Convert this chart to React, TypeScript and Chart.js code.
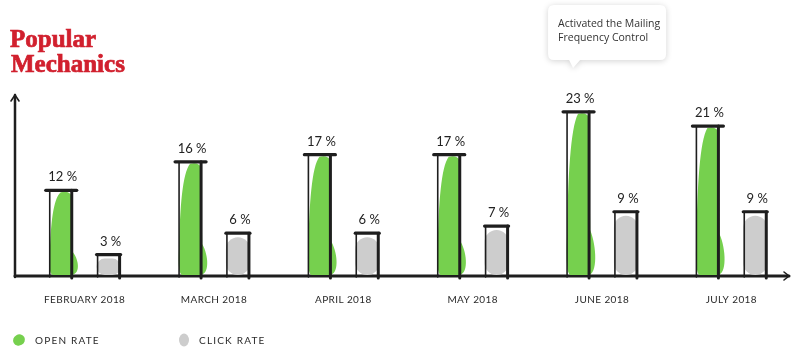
import React, { useEffect, useRef } from "react";
import { Chart, registerables } from "chart.js";
Chart.register(...registerables);

const months = ["FEBRUARY 2018", "MARCH 2018", "APRIL 2018", "MAY 2018", "JUNE 2018", "JULY 2018"];
const openRate = [12, 16, 17, 17, 23, 21];
const clickRate = [3, 6, 6, 7, 9, 9];
const seriesNames = ["OPEN RATE", "CLICK RATE"];
const titleLines = ["Popular", "Mechanics"];
const calloutLines = ["Activated the Mailing", "Frequency Control"];
const calloutIndex = 4;

const GREEN = "#76d04e";
const GRAY = "#cdcdcd";
const INK = "#1e1e1e";
const RED = "#d1202e";

function greenBlob(ctx: CanvasRenderingContext2D, l: number, r: number, t: number, b: number) {
  const w = r - l;
  const h = b - t;
  ctx.beginPath();
  ctx.moveTo(l + 0.5 * w, t + 2);
  ctx.quadraticCurveTo(r - 0.1 * w, t, r, t + 6);
  ctx.lineTo(r + 0.05 * w, b - 0.28 * h);
  ctx.bezierCurveTo(r + 0.35 * w, b - 0.18 * h, r + 0.4 * w, b - 1, r - 0.05 * w, b - 1);
  ctx.lineTo(l + 0.15 * w, b - 1);
  ctx.quadraticCurveTo(l - 0.08 * w, b - 2, l + 0.0 * w, b - 0.25 * h);
  ctx.bezierCurveTo(l + 0.05 * w, t + 0.4 * h, l + 0.15 * w, t + 0.1 * h, l + 0.5 * w, t + 2);
  ctx.closePath();
  ctx.fillStyle = GREEN;
  ctx.fill();
}

function grayBlob(ctx: CanvasRenderingContext2D, l: number, r: number, t: number, b: number) {
  const w = r - l;
  const top = t + 4;
  const h = b - 1 - top;
  ctx.beginPath();
  ctx.roundRect(l - 1, top, w + 2, h, Math.min((w + 2) / 2, h / 2));
  ctx.fillStyle = GRAY;
  ctx.fill();
}

const sketchPlugin = {
  id: "sketch",
  beforeDatasetsDraw(chart: any) {
    const ctx: CanvasRenderingContext2D = chart.ctx;
    const area = chart.chartArea;
    const xs = chart.scales.x;
    ctx.save();
    // title
    ctx.fillStyle = RED;
    ctx.strokeStyle = RED;
    ctx.lineWidth = 0.7;
    ctx.font = "bold 25px 'Liberation Serif'";
    ctx.textAlign = "left";
    ctx.textBaseline = "alphabetic";
    ctx.fillText(titleLines[0], 10, 47);
    ctx.strokeText(titleLines[0], 10, 47);
    ctx.fillText(titleLines[1], 11, 72);
    ctx.strokeText(titleLines[1], 11, 72);

    // axes
    ctx.strokeStyle = INK;
    ctx.lineCap = "round";
    ctx.lineWidth = 2.5;
    const ax = area.left - 5;
    ctx.beginPath();
    ctx.moveTo(ax, area.bottom + 1);
    ctx.lineTo(ax, area.top + 1);
    ctx.stroke();
    ctx.lineWidth = 1.6;
    ctx.beginPath();
    ctx.moveTo(ax - 4, area.top + 7);
    ctx.lineTo(ax, area.top + 1);
    ctx.lineTo(ax + 4, area.top + 7);
    ctx.stroke();
    ctx.lineWidth = 3;
    ctx.beginPath();
    ctx.moveTo(ax, area.bottom);
    ctx.lineTo(area.right - 7, area.bottom);
    ctx.stroke();
    ctx.lineWidth = 1.6;
    ctx.beginPath();
    ctx.moveTo(area.right - 12, area.bottom - 4);
    ctx.lineTo(area.right - 7, area.bottom);
    ctx.lineTo(area.right - 12, area.bottom + 4);
    ctx.stroke();

    // month labels
    ctx.fillStyle = "#2a2a2a";
    ctx.font = "10px Lato";
    (ctx as any).letterSpacing = "0.4px";
    ctx.textAlign = "center";
    months.forEach((m, i) => {
      ctx.fillText(m, xs.getPixelForValue(i), area.bottom + 27);
    });

    // legend
    ctx.fillStyle = GREEN;
    ctx.beginPath();
    ctx.ellipse(19, 340, 6, 5.5, -0.5, 0, Math.PI * 2);
    ctx.fill();
    ctx.fillStyle = GRAY;
    ctx.beginPath();
    ctx.ellipse(184, 340, 5, 6.5, 0, 0, Math.PI * 2);
    ctx.fill();
    ctx.fillStyle = "#2a2a2a";
    ctx.font = "10px Lato";
    (ctx as any).letterSpacing = "1.2px";
    ctx.textAlign = "left";
    ctx.fillText(seriesNames[0], 35, 344);
    ctx.fillText(seriesNames[1], 199, 344);
    (ctx as any).letterSpacing = "0px";
    ctx.restore();
  },
  afterDatasetsDraw(chart: any) {
    const ctx: CanvasRenderingContext2D = chart.ctx;
    ctx.save();
    chart.data.datasets.forEach((ds: any, di: number) => {
      const meta = chart.getDatasetMeta(di);
      meta.data.forEach((el: any, i: number) => {
        const { x, y, base, width } = el.getProps(["x", "y", "base", "width"], true);
        const l = x - width / 2;
        const r = x + width / 2;
        if (di === 0) greenBlob(ctx, l, r, y, base);
        else grayBlob(ctx, l, r, y, base);
        ctx.strokeStyle = INK;
        ctx.lineCap = "round";
        ctx.lineWidth = 1.6;
        ctx.beginPath();
        ctx.moveTo(l, y);
        ctx.lineTo(l, base + 1);
        ctx.stroke();
        ctx.lineWidth = 3;
        ctx.beginPath();
        ctx.moveTo(r, y);
        ctx.lineTo(r, base + 2);
        ctx.stroke();
        ctx.lineWidth = 3.2;
        ctx.beginPath();
        if (di === 0) {
          ctx.moveTo(l - 4, y);
          ctx.lineTo(r + 5, y);
        } else {
          ctx.moveTo(l - 1, y);
          ctx.lineTo(r + 1, y);
        }
        ctx.stroke();
        // value label
        ctx.fillStyle = "#222";
        ctx.font = "13px Lato";
        ctx.textAlign = "center";
        ctx.textBaseline = "alphabetic";
        ctx.fillText(`${ds.data[i]} %`, x + 2, y - 9);
      });
    });

    // callout
    const el = chart.getDatasetMeta(0).data[calloutIndex];
    const cx = el.x;
    const bx = cx - 30;
    const by = 5;
    const bw = 118;
    const bh = 55;
    ctx.save();
    ctx.shadowColor = "rgba(0,0,0,0.18)";
    ctx.shadowBlur = 6;
    ctx.shadowOffsetY = 1;
    ctx.fillStyle = "#fff";
    ctx.beginPath();
    ctx.moveTo(bx + 6, by);
    ctx.lineTo(bx + bw - 6, by);
    ctx.quadraticCurveTo(bx + bw, by, bx + bw, by + 6);
    ctx.lineTo(bx + bw, by + bh - 6);
    ctx.quadraticCurveTo(bx + bw, by + bh, bx + bw - 6, by + bh);
    ctx.lineTo(bx + 32, by + bh);
    ctx.lineTo(bx + 25, by + bh + 8);
    ctx.lineTo(bx + 21, by + bh);
    ctx.lineTo(bx + 6, by + bh);
    ctx.quadraticCurveTo(bx, by + bh, bx, by + bh - 6);
    ctx.lineTo(bx, by + 6);
    ctx.quadraticCurveTo(bx, by, bx + 6, by);
    ctx.closePath();
    ctx.fill();
    ctx.restore();
    ctx.fillStyle = "#333";
    ctx.font = "10.5px 'Open Sans'";
    ctx.textAlign = "left";
    ctx.fillText(calloutLines[0], bx + 10, by + 22);
    ctx.fillText(calloutLines[1], bx + 10, by + 36);
    ctx.restore();
  },
};

export default function App() {
  const ref = useRef<HTMLCanvasElement>(null);
  useEffect(() => {
    if (!ref.current) return;
    const chart = new Chart(ref.current, {
      type: "bar",
      data: {
        labels: months,
        datasets: [
          { label: seriesNames[0], data: openRate, backgroundColor: "rgba(0,0,0,0)", borderWidth: 0 },
          { label: seriesNames[1], data: clickRate, backgroundColor: "rgba(0,0,0,0)", borderWidth: 0 },
        ],
      },
      options: {
        responsive: false,
        animation: false,
        devicePixelRatio: 1,
        layout: { padding: { left: 20, right: 4, top: 94, bottom: 82 } },
        datasets: { bar: { categoryPercentage: 0.74, barPercentage: 0.46 } },
        scales: {
          x: { display: false },
          y: { display: false, min: 0, max: 25.5 },
        },
        plugins: { legend: { display: false }, tooltip: { enabled: false } },
      },
      plugins: [sketchPlugin],
    });
    return () => chart.destroy();
  }, []);
  return (
    <div style={{ position: "fixed", left: 0, top: 0, width: 800, height: 358, background: "#fff" }}>
      <canvas ref={ref} width={800} height={358} />
    </div>
  );
}
